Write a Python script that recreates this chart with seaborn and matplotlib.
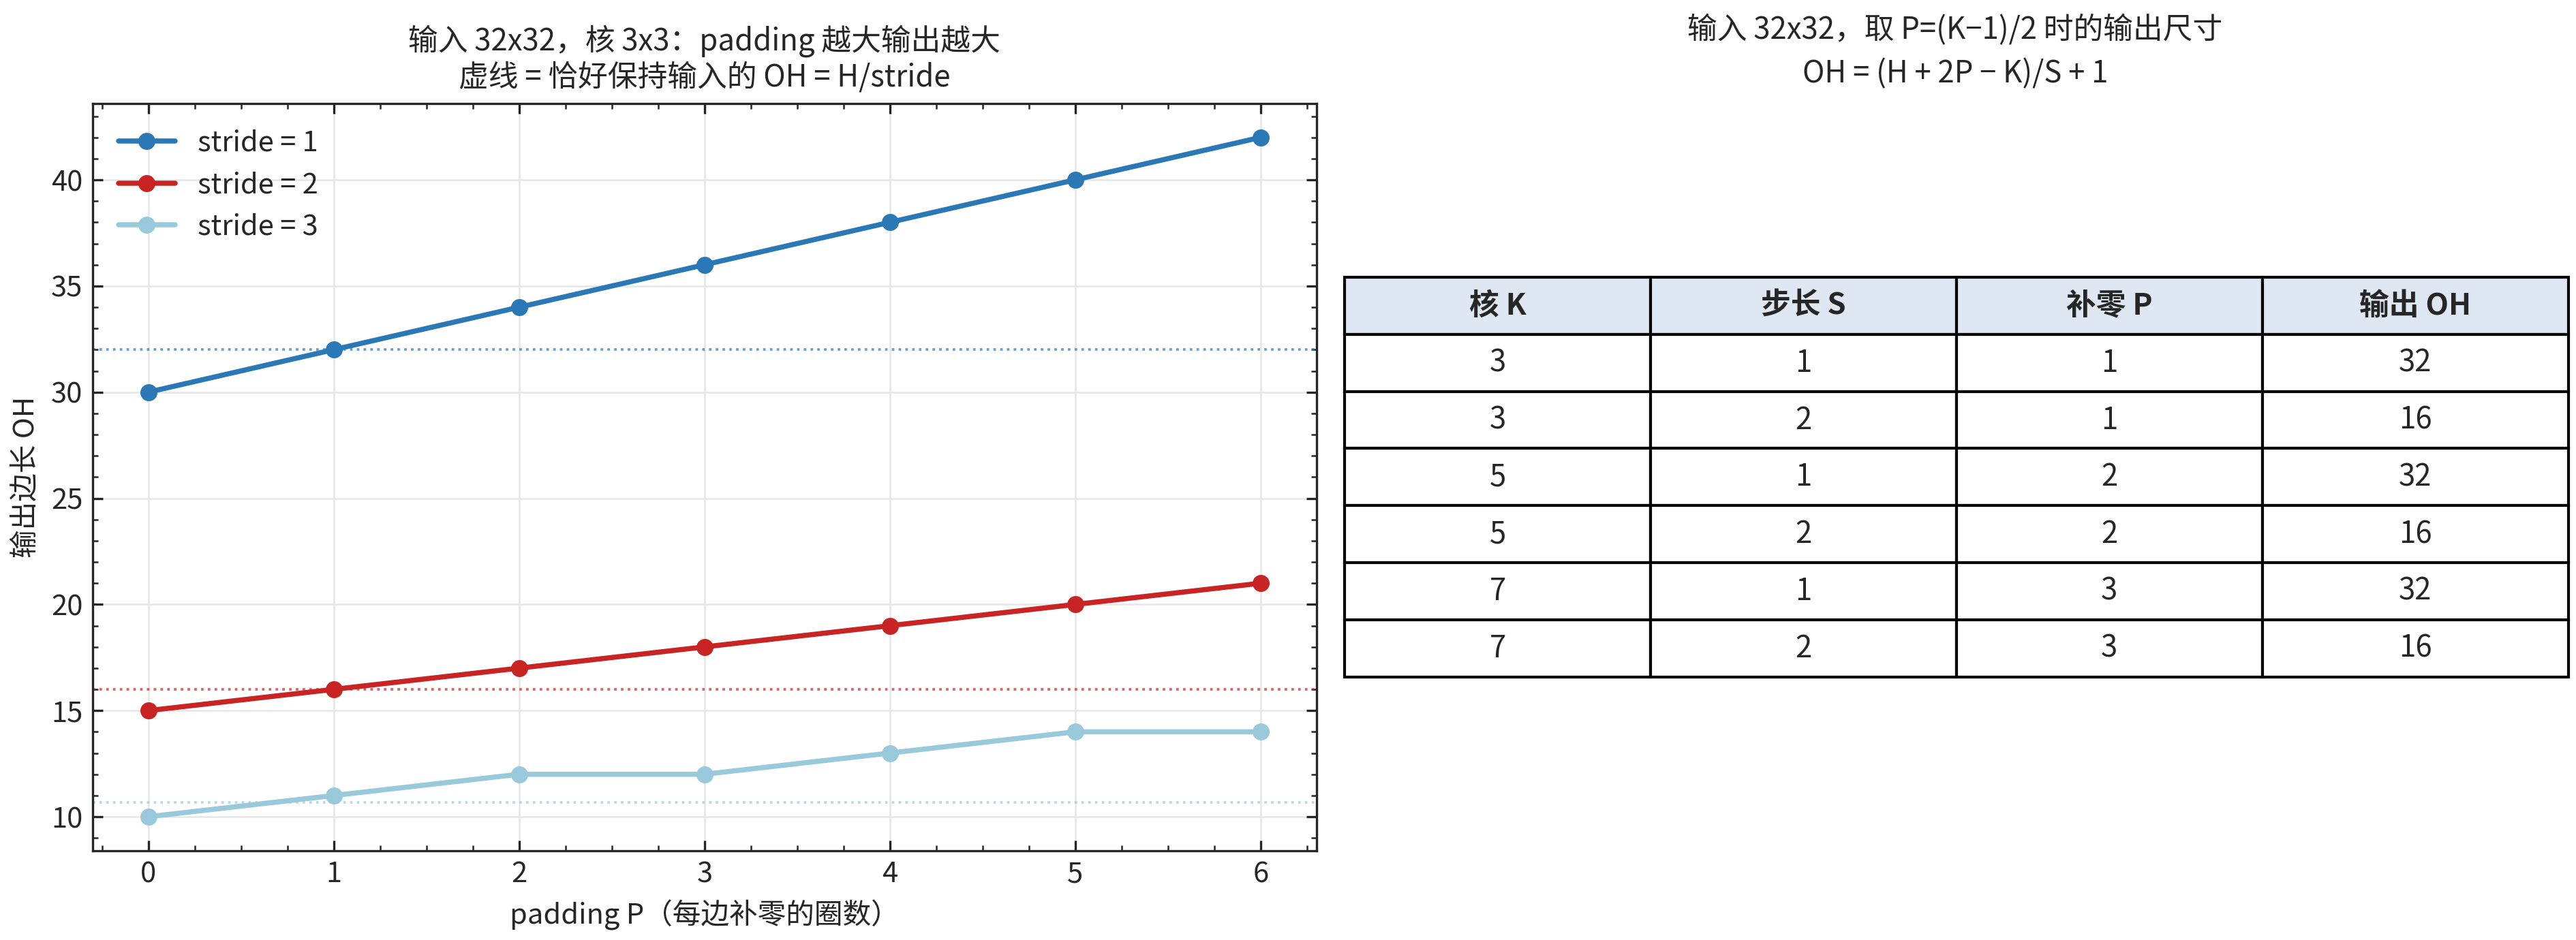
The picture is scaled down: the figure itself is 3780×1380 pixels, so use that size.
import numpy as np
import matplotlib
import matplotlib.pyplot as plt
import seaborn as sns
import pandas as pd

matplotlib.use('Agg')

H = 32
K = 3
paddings = [0, 1, 2, 3, 4, 5, 6]
oh_s1 = [30, 32, 34, 36, 38, 40, 42]
oh_s2 = [15, 16, 17, 18, 19, 20, 21]
oh_s3 = [10, 11, 12, 12, 13, 14, 14]
strides = [1, 2, 3]
colors = ["#2a78b5", "#c82423", "#9ac9db"]

table_cols = ["核 K", "步长 S", "补零 P", "输出 OH"]
table_k = [3, 3, 5, 5, 7, 7]
table_s = [1, 2, 1, 2, 1, 2]
table_p = [1, 1, 2, 2, 3, 3]
table_oh = [32, 16, 32, 16, 32, 16]

sns.set_style("ticks")
plt.rcParams['font.family'] = ['Noto Sans CJK SC', 'DejaVu Sans']
plt.rcParams.update({
    'xtick.direction': 'in', 'ytick.direction': 'in',
    'xtick.top': True, 'ytick.right': True,
    'xtick.minor.visible': True, 'ytick.minor.visible': True,
    'axes.unicode_minus': False,
})

df = pd.DataFrame({
    "P": paddings * 3,
    "OH": oh_s1 + oh_s2 + oh_s3,
    "stride": [f"stride = {s}" for s in strides for _ in paddings],
})

fig = plt.figure(figsize=(12.6, 4.6), dpi=300)
ax = fig.add_axes([0.036, 0.095, 0.475, 0.795])
sns.lineplot(data=df, x="P", y="OH", hue="stride", palette=colors,
             marker="o", markersize=6, markeredgewidth=0, linewidth=1.8, ax=ax)
for s, c in zip(strides, colors):
    ax.axhline(H / s, color=c, linestyle=":", linewidth=0.9, alpha=0.7)
ax.grid(True, color="#e6e6e6", linewidth=0.6)
ax.set_axisbelow(True)
ax.set_xlabel("padding P（每边补零的圈数）")
ax.set_ylabel("输出边长 OH")
ax.set_title("输入 32x32，核 3x3：padding 越大输出越大\n虚线 = 恰好保持输入的 OH = H/stride", fontsize=10.5)
ax.set_xticks(paddings)
ax.xaxis.set_minor_locator(matplotlib.ticker.MultipleLocator(0.25))
ax.yaxis.set_minor_locator(matplotlib.ticker.MultipleLocator(1))
ax.legend(loc="upper left", frameon=False, title=None, fontsize=10)
ax.tick_params(which="major", length=3.5)
ax.tick_params(which="minor", length=2)

tax = fig.add_axes([0.522, 0.28, 0.475, 0.425])
tax.axis("off")
cells = [[str(a), str(b), str(c), str(d)] for a, b, c, d in zip(table_k, table_s, table_p, table_oh)]
tbl = tax.table(cellText=cells, colLabels=table_cols, loc="center", cellLoc="center", bbox=[0, 0, 1, 1])
tbl.auto_set_font_size(False)
for (r, c), cell in tbl.get_celld().items():
    cell.set_fontsize(10.5)
    if r == 0:
        cell.set_facecolor("#dfe7f2")
        cell.set_text_props(fontweight="bold")
tax.set_title("输入 32x32，取 P=(K−1)/2 时的输出尺寸\nOH = (H + 2P − K)/S + 1", fontsize=10.5, y=1.0, pad=0)
fig.text(0.758, 0.895, "", ha="center")
# move table title to top
tax.title.set_position((0.5, 1.0))
tax.title.set_transform(fig.transFigure)
tax.title.set_position((0.5, 0.0))
tax.set_title("")
fig.text(0.759, 0.905, "输入 32x32，取 P=(K−1)/2 时的输出尺寸\nOH = (H + 2P − K)/S + 1",
         ha="center", va="bottom", fontsize=10.5, linespacing=1.5)

plt.savefig("out.png", dpi=300, facecolor="white")
